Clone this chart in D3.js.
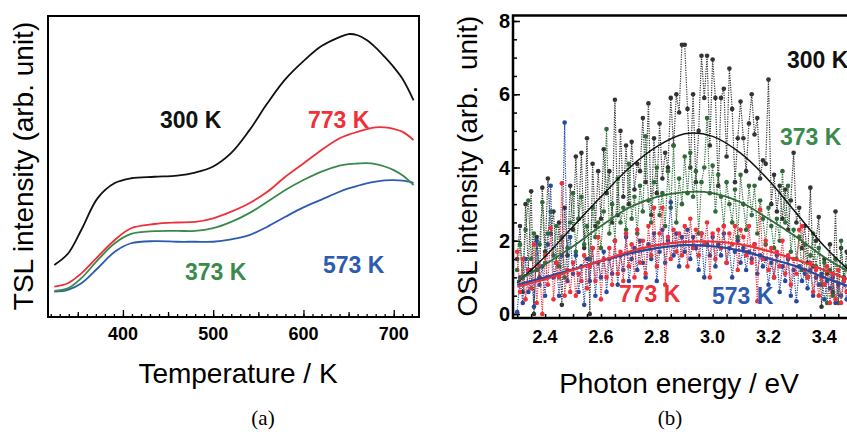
<!DOCTYPE html>
<html lang="en">
<head>
    <meta charset="UTF-8">
    <title>TSL and OSL spectra</title>
    <script type="text/javascript" src="https://d3js.org/d3.v7.min.js"></script>
    <style>
        body { margin: 0; background: #fff; }
        text { font-family: "Liberation Sans", Arial, sans-serif; }
    </style>
</head>
<body>
<svg class="chart"></svg>

<script type="text/javascript">

    const width = 847;
    const height = 432;

    // ---- panel (a): TSL glow curves ----
    const tslTemps = [324, 339, 354, 372, 391, 409, 435, 460, 480, 500, 520, 540, 560, 580, 600, 620, 640, 650, 660, 670, 680, 690, 700, 710, 722];
    const tsl300 = [17.3, 21, 29, 39.5, 44.5, 46.1, 46.6, 47, 48, 50, 54.5, 62, 71, 79, 85, 90, 93, 94, 93.6, 92, 89.5, 86.4, 83, 79, 72];
    const tsl773 = [10.1, 11.2, 14.5, 20, 25.6, 29.5, 30.9, 31.4, 31.6, 32.8, 35, 37.8, 41.6, 46.6, 51, 55.5, 59.4, 60.6, 61.5, 62.4, 63, 63, 62.5, 61.5, 58.8];
    const tsl373 = [8.7, 9.5, 12.9, 18.9, 24.5, 27.6, 28.5, 28.6, 28.6, 29.5, 31.6, 34.5, 38.3, 42.2, 45.5, 48.3, 50.3, 50.8, 51, 51.1, 50.8, 50, 48.8, 47, 43.8];
    const tsl573 = [8.4, 9, 11.2, 16.2, 21.7, 24.5, 25.2, 25, 25, 25, 25.8, 27.2, 30, 33.3, 36.4, 39, 41.6, 42.7, 43.6, 44.4, 45, 45.4, 45.5, 45.3, 44.6];
    const tempTicks = [400, 500, 600, 700];

    // ---- panel (b): OSL spectra, one value every 0.01 eV from 2.30 eV ----
    const energyStart = 2.30;
    const energyStep = 0.01;
    const osl300 = [1.5, 2.4, 0.6, 3.0, 1.2, 3.35, 0.0, 2.1, 1.0, 3.45,
        1.7, 3.7, 2.2, 2.8, 1.4, 2.5, 0.25, 2.9, 1.6, 3.5,
        2.3, 4.3, 2.6, 4.4, 1.8, 4.8, 0.0, 4.1, 2.4, 3.9,
        2.6, 4.5, 3.3, 3.9, 2.5, 5.85, 2.7, 5.0, 3.2, 4.6,
        3.0, 4.7, 3.4, 4.1, 3.9, 5.35, 3.6, 5.75, 2.7, 4.8,
        3.3, 5.2, 3.7, 4.4, 4.0, 5.9, 4.6, 6.0, 5.5, 7.35,
        7.35, 5.6, 4.0, 6.0, 3.6, 5.0, 7.05, 5.9, 7.05, 4.6,
        6.95, 5.9, 3.5, 5.9, 6.15, 4.3, 6.7, 5.6, 3.6, 4.8,
        5.8, 4.8, 3.9, 5.2, 6.0, 4.9, 5.35, 3.7, 4.2, 4.1,
        6.4, 3.0, 3.8, 2.8, 3.5, 2.6, 3.4, 2.3, 3.1, 4.4,
        2.5, 2.9, 1.8, 2.4, 1.4, 3.45, 1.3, 2.0, 2.65, 0.2,
        1.5, 1.1, 1.9, 0.6, 2.8, 0.3, 1.8, 1.0, 1.7, 0.4, 1.5];
    const osl373 = [1.2, 1.9, 1.0, 2.3, 3.1, 1.5, 2.2, 1.2, 1.9, 3.05,
        1.4, 2.2, 2.8, 1.6, 2.4, 1.3, 2.1, 1.0, 1.8, 2.5,
        3.3, 1.7, 2.6, 3.2, 1.9, 2.4, 1.5, 2.9, 2.1, 2.5,
        1.8, 2.8, 5.05, 2.2, 3.0, 2.0, 3.7, 2.5, 2.9, 2.3,
        4.1, 2.6, 3.2, 2.2, 3.5, 2.8, 4.85, 3.1, 2.5, 3.6,
        4.0, 2.7, 3.3, 2.4, 3.9, 2.9, 4.6, 2.5, 3.7, 3.0,
        4.3, 3.3, 4.4, 3.2, 3.9, 2.2, 3.6, 4.0, 5.35, 3.3,
        4.05, 2.8, 3.8, 3.2, 2.4, 3.6, 3.0, 2.5, 3.4, 2.1,
        3.8, 3.0, 2.3, 3.5, 2.7, 3.5, 2.2, 3.1, 2.6, 1.9,
        2.9, 2.4, 1.8, 2.6, 2.0, 3.9, 2.5, 3.5, 1.7, 2.3,
        1.5, 2.1, 1.2, 1.9, 1.0, 1.6, 2.2, 1.3, 1.8, 0.8,
        1.4, 0.3, 1.2, 0.5, 1.5, 0.3, 2.0, 0.9, 1.3, 0.5, 1.0];
    const osl573 = [0.05, 1.0, 0.3, 1.5, 0.6, 1.2, 0.2, 2.0, 0.8, 1.3,
        0.5, 1.9, 3.5, 1.0, 1.4, 0.5, 1.6, 5.23, 0.9, 2.1,
        1.1, 1.6, 0.6, 1.3, 0.25, 1.5, 0.9, 1.8, 0.5, 1.4,
        1.0, 1.7, 0.6, 1.5, 1.1, 2.0, 0.8, 1.6, 1.2, 2.1,
        0.9, 1.5, 1.8, 1.2, 2.0, 1.4, 1.0, 1.9, 1.5, 2.2,
        0.9, 1.7, 2.3, 1.4, 2.0, 3.05, 1.6, 2.2, 1.3, 2.1,
        1.7, 2.3, 1.5, 2.1, 1.8, 1.2, 2.2, 1.0, 1.9, 1.6,
        2.1, 1.3, 1.9, 1.6, 2.2, 1.4, 1.8, 1.0, 1.7, 2.0,
        1.4, 1.8, 1.2, 1.7, 1.5, 1.9, 1.1, 1.6, 1.3, 1.5,
        0.8, 1.4, 1.0, 1.6, 0.6, 1.3, 0.9, 1.5, 0.5, 1.2,
        0.35, 1.3, 0.9, 1.1, 0.7, 1.2, 0.5, 1.0, 0.8, 1.1,
        0.4, 0.9, 0.7, 1.0, 0.3, 0.8, 0.5, 0.9, 0.4, 0.7, 0.6];
    const osl773 = [1.7, 0.6, 1.5, 0.4, 1.2, 0.7, 1.9, 0.3, 1.3, 0.0,
        1.6, 0.8, 2.35, 0.4, 1.4, 1.0, 3.57, 0.5, 1.2, 0.6,
        1.4, 0.5, 1.1, 0.9, 1.6, 0.7, 1.3, 1.8, 0.9, 2.1,
        0.4, 1.5, 1.0, 1.8, 0.8, 2.0, 1.1, 1.7, 0.9, 2.2,
        1.3, 1.9, 1.0, 2.3, 1.4, 2.0, 1.1, 2.4, 1.6, 2.9,
        1.3, 2.2, 2.9, 0.8, 2.1, 1.5, 2.3, 1.7, 2.2, 1.6,
        2.4, 1.3, 2.6, 1.8, 2.3, 1.6, 2.2, 1.9, 2.5, 1.0,
        2.2, 1.5, 2.3, 1.8, 2.4, 1.4, 2.2, 1.9, 2.4, 1.2,
        2.3, 2.1, 1.6, 2.4, 1.4, 1.9, 0.35, 2.85, 1.5, 2.0,
        1.2, 1.8, 1.0, 1.7, 1.3, 2.0, 1.1, 1.6, 0.8, 1.5,
        1.1, 2.3, 2.4, 1.2, 1.0, 1.4, 0.6, 1.2, 0.5, 1.0,
        0.8, 1.3, 0.3, 1.1, 0.4, 1.2, 0.3, 0.9, 0.6, 1.1, 0.7];

    // fitted curves, read every 0.1 eV
    const fitEnergy = [2.3, 2.4, 2.5, 2.6, 2.7, 2.8, 2.9, 3.0, 3.1, 3.2, 3.3, 3.4, 3.5];
    const fit300 = [0.85, 1.57, 2.39, 3.2, 3.98, 4.57, 4.92, 4.85, 4.39, 3.66, 2.75, 1.85, 1.1];
    const fit373 = [0.9, 1.35, 1.85, 2.4, 2.9, 3.2, 3.33, 3.3, 3.05, 2.6, 2.1, 1.55, 1.1];
    const fit773 = [0.75, 0.95, 1.2, 1.45, 1.7, 1.88, 1.97, 1.98, 1.9, 1.72, 1.48, 1.2, 0.9];
    const fit573 = [0.8, 1.0, 1.22, 1.45, 1.65, 1.8, 1.88, 1.85, 1.73, 1.52, 1.3, 1.0, 0.72];
    const energyTicks = [2.4, 2.6, 2.8, 3.0, 3.2, 3.4];
    const oslTicks = [0, 2, 4, 6, 8];

    const colors = {black: "#111", grey: "#333", red: "#ee3038", green: "#3a8a4c", blue: "#2d5bb0",
        greenDot: "#2f6b38", blueDot: "#2649a0"};

    let svg = d3.select(".chart")
        .attr("width", width)
        .attr("height", height);

    drawTSL(svg);
    drawOSL(svg);

    function drawTSL(svg) {
        let g = svg.append("g");

        let scaleX = d3.scaleLinear().domain([317, 728]).range([48, 419]);
        let scaleY = d3.scaleLinear().domain([0, 100]).range([317, 16]);

        // inward ticks: minor every 10, medium every 50, major every 100
        let axis = (vals, len) => d3.axisBottom(scaleX).tickValues(vals).tickSize(-len).tickFormat("");
        [[d3.range(320, 728, 10), 3], [d3.range(350, 728, 100), 5], [tempTicks, 7]].forEach(function (a) {
            g.append("g").attr("transform", "translate(0,317)").call(axis(a[0], a[1]))
                .call(s => s.select(".domain").remove())
                .selectAll("line").attr("stroke", "#000").attr("stroke-width", 1.3);
        });

        g.selectAll(".tlabel").data(tempTicks).enter().append("text")
            .attr("x", d => scaleX(d)).attr("y", 340)
            .attr("text-anchor", "middle")
            .style("font-size", "18px").style("font-weight", "bold")
            .text(d => d);

        let line = d3.line()
            .x((d, i) => scaleX(tslTemps[i]))
            .y(d => scaleY(d))
            .curve(d3.curveCatmullRom);

        [[tsl300, colors.black], [tsl573, colors.blue], [tsl373, colors.green], [tsl773, colors.red]].forEach(function (s) {
            g.append("path").attr("d", line(s[0]))
                .attr("fill", "none").attr("stroke", s[1]).attr("stroke-width", 1.8);
        });

        g.append("rect").attr("x", 48).attr("y", 16).attr("width", 371).attr("height", 301)
            .attr("fill", "none").attr("stroke", "#000").attr("stroke-width", 2);

        let labels = [["300 K", 160, 128, colors.black], ["773 K", 308, 128, colors.red],
            ["373 K", 185, 280, colors.green], ["573 K", 323, 273, colors.blue]];
        g.selectAll(".serieslabel").data(labels).enter().append("text")
            .attr("x", d => d[1]).attr("y", d => d[2]).attr("fill", d => d[3])
            .style("font-size", "23px").style("font-weight", "bold")
            .text(d => d[0]);

        g.append("text").attr("transform", "translate(33,166) rotate(-90)")
            .attr("text-anchor", "middle").style("font-size", "28px")
            .text("TSL intensity (arb. unit)");
        g.append("text").attr("x", 238).attr("y", 383)
            .attr("text-anchor", "middle").style("font-size", "28px")
            .text("Temperature / K");
        g.append("text").attr("x", 263).attr("y", 425)
            .attr("text-anchor", "middle").style("font-size", "21px")
            .style("font-family", "'Liberation Serif', 'Times New Roman', serif")
            .text("(a)");
    }

    function drawOSL(svg) {
        let g = svg.append("g");

        let scaleX = d3.scaleLinear().domain([2.285, 3.56]).range([513, 869]);
        let scaleY = d3.scaleLinear().domain([0, 8]).range([314, 21]);

        svg.append("clipPath").attr("id", "oslclip")
            .append("rect").attr("x", 514).attr("y", 16).attr("width", 340).attr("height", 301);

        // inward ticks on the bottom and left
        let minorX = d3.axisBottom(scaleX).tickValues(d3.range(2.30, 3.56, 0.05)).tickSize(-4).tickFormat("");
        let minorY = d3.axisLeft(scaleY).tickValues(d3.range(0, 8.1, 0.5)).tickSize(-4).tickFormat("");
        let majorY = d3.axisLeft(scaleY).tickValues(oslTicks).tickSize(-7).tickFormat("");
        g.append("g").attr("transform", "translate(0,318)").call(minorX)
            .call(s => s.select(".domain").remove())
            .selectAll("line").attr("stroke", "#000").attr("stroke-width", 1.5);
        [minorY, majorY].forEach(function (ax) {
            g.append("g").attr("transform", "translate(513,0)").call(ax)
                .call(s => s.select(".domain").remove())
                .selectAll("line").attr("stroke", "#000").attr("stroke-width", 1.5);
        });

        g.selectAll(".xlabel").data(energyTicks).enter().append("text")
            .attr("x", d => scaleX(d)).attr("y", 343)
            .attr("text-anchor", "middle")
            .style("font-size", "18px").style("font-weight", "bold")
            .text(d => d.toFixed(1));
        g.selectAll(".ylabel").data(oslTicks).enter().append("text")
            .attr("x", 510).attr("y", d => scaleY(d) + 7)
            .attr("text-anchor", "end")
            .style("font-size", "20px").style("font-weight", "bold")
            .text(d => d);

        let plot = g.append("g").attr("clip-path", "url(#oslclip)");

        let dotted = d3.line()
            .x((d, i) => scaleX(energyStart + i * energyStep))
            .y(d => scaleY(d));

        let series = [[osl300, colors.grey], [osl373, colors.greenDot], [osl573, colors.blueDot], [osl773, colors.red]];
        series.forEach(function (s) {
            plot.append("path").attr("d", dotted(s[0]))
                .attr("fill", "none").attr("stroke", s[1])
                .attr("stroke-width", 1.2).attr("stroke-dasharray", "1.2,1.2");
            plot.append("g").selectAll("circle").data(s[0]).enter().append("circle")
                .attr("cx", (d, i) => scaleX(energyStart + i * energyStep))
                .attr("cy", d => scaleY(d))
                .attr("r", 2.3)
                .attr("fill", s[1]);
        });

        let fitLine = d3.line()
            .x((d, i) => scaleX(fitEnergy[i]))
            .y(d => scaleY(d))
            .curve(d3.curveCatmullRom);

        [[fit300, colors.black, 1.5], [fit373, colors.greenDot, 1.8], [fit573, colors.blueDot, 2.2], [fit773, colors.red, 2.2]].forEach(function (s) {
            plot.append("path").attr("d", fitLine(s[0]))
                .attr("fill", "none").attr("stroke", s[1]).attr("stroke-width", s[2]);
        });

        // frame: right edge runs off the picture
        g.append("path").attr("d", "M860,15.5 H513 V318 H860")
            .attr("fill", "none").attr("stroke", "#000").attr("stroke-width", 2.5);

        let labels = [["300 K", 787, 68, colors.black], ["373 K", 780, 145, colors.green],
            ["773 K", 619, 302, colors.red], ["573 K", 712, 304, colors.blue]];
        g.selectAll(".serieslabel").data(labels).enter().append("text")
            .attr("x", d => d[1]).attr("y", d => d[2]).attr("fill", d => d[3])
            .style("font-size", "23px").style("font-weight", "bold")
            .text(d => d[0]);

        g.append("text").attr("transform", "translate(477,166) rotate(-90)")
            .attr("text-anchor", "middle").style("font-size", "28px")
            .attr("xml:space", "preserve")
            .text("OSL intensity (arb.  unit)");
        g.append("text").attr("x", 679).attr("y", 393)
            .attr("text-anchor", "middle").style("font-size", "28px")
            .text("Photon energy / eV");
        g.append("text").attr("x", 670).attr("y", 425)
            .attr("text-anchor", "middle").style("font-size", "21px")
            .style("font-family", "'Liberation Serif', 'Times New Roman', serif")
            .text("(b)");
    }

</script>

</body>
</html>
